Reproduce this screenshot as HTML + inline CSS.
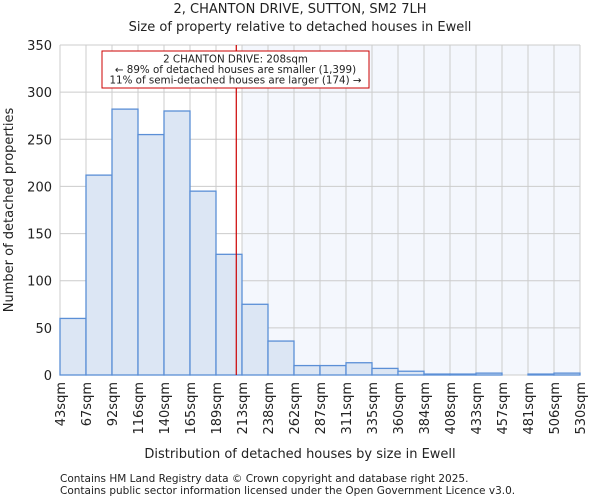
<!DOCTYPE html>
<html><head><meta charset="utf-8"><style>
body{margin:0;background:#fff;font-family:"DejaVu Sans","Liberation Sans",sans-serif}
svg text{font-family:"DejaVu Sans","Liberation Sans",sans-serif;fill:#222}
</style></head><body>
<svg id="c" width="600" height="500">
<text x="300" y="13" text-anchor="middle" font-size="13">2, CHANTON DRIVE, SUTTON, SM2 7LH</text>
<text x="300" y="31" text-anchor="middle" font-size="13">Size of property relative to detached houses in Ewell</text>
<g id="plot"></g>
<text x="300" y="458" text-anchor="middle" font-size="13">Distribution of detached houses by size in Ewell</text>
<text transform="translate(13,210) rotate(-90)" text-anchor="middle" font-size="13">Number of detached properties</text>
<text x="60" y="482" font-size="10.5">Contains HM Land Registry data © Crown copyright and database right 2025.</text>
<text x="60" y="494" font-size="10.5">Contains public sector information licensed under the Open Government Licence v3.0.</text>
</svg>
<script>
const binLabels=["43sqm","67sqm","92sqm","116sqm","140sqm","165sqm","189sqm","213sqm","238sqm","262sqm","287sqm","311sqm","335sqm","360sqm","384sqm","408sqm","433sqm","457sqm","481sqm","506sqm","530sqm"];
const counts=[60,212,282,255,280,195,128,75,36,10,10,13,7,4,1,1,2,0,1,2];
const yTicks=[0,50,100,150,200,250,300,350];
const propertyBin=6.78;
const highlightFrom=7;
const NS="http://www.w3.org/2000/svg";
const g=document.getElementById('plot');
const X0=60,X1=580,Y0=375,Y1=45;
const bw=(X1-X0)/counts.length;
const x=i=>X0+i*bw;
const y=v=>Y0-(v/350)*(Y0-Y1);
function mk(t,a){const e=document.createElementNS(NS,t);for(const k in a)e.setAttribute(k,a[k]);g.appendChild(e);return e;}
let e=mk('rect',{x:x(highlightFrom),y:Y1,width:X1-x(highlightFrom),height:Y0-Y1,fill:'#f4f7fd'});


for(let i=0;i<binLabels.length;i++){e=mk('line',{x1:x(i),x2:x(i),y1:Y1,y2:Y0,stroke:'#ccc'});

}
yTicks.forEach(v=>{e=mk('line',{x1:X0,x2:X1,y1:y(v),y2:y(v),stroke:'#ccc'});


const t=mk('text',{x:X0-8,y:y(v)+5,'text-anchor':'end','font-size':13});t.textContent=v;

});
counts.forEach((c,i)=>{e=mk('rect',{x:x(i),y:y(c),width:bw,height:Y0-y(c),fill:'#dce6f4',stroke:'#5b8fd6','stroke-width':1.3});

});
binLabels.forEach((l,i)=>{const t=mk('text',{transform:`translate(${x(i)+5},382) rotate(-90)`,'text-anchor':'end','font-size':13});t.textContent=l;

});
const px=x(propertyBin);
e=mk('line',{x1:px,x2:px,y1:Y1,y2:Y0,stroke:'#cc0000','stroke-width':1.2});


e=mk('rect',{x:102,y:51,width:267,height:37,fill:'#fff',stroke:'#cc0000'});


["2 CHANTON DRIVE: 208sqm","← 89% of detached houses are smaller (1,399)","11% of semi-detached houses are larger (174) →"].forEach((s,i)=>{const t=mk('text',{x:235.5,y:62.5+i*10.5,'text-anchor':'middle','font-size':10.3});t.textContent=s;

});
</script>
</body></html>
